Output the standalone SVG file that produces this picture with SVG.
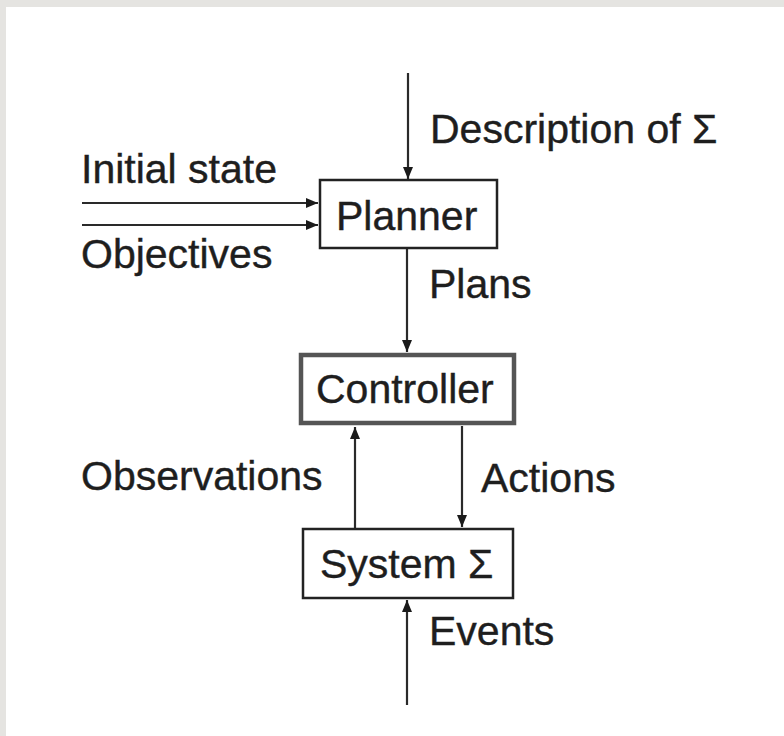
<svg xmlns="http://www.w3.org/2000/svg" width="784" height="736" viewBox="0 0 784 736">
<defs>
<marker id="ah" viewBox="0 0 12 10" refX="12" refY="5" markerWidth="12" markerHeight="10" markerUnits="userSpaceOnUse" orient="auto">
<path d="M0,0 L12,5 L0,10 Z" fill="#1a1a1a"/>
</marker>
<style>
.bg{fill:#e5e4e1}
.paper{fill:#ffffff}
.box{fill:#ffffff;stroke:#222;stroke-width:2.5}
.box2{fill:#ffffff;stroke:#555;stroke-width:4.5}
.lbl{font-family:"Liberation Sans",Arial,sans-serif;font-size:41px;fill:#1e1e1e;stroke:#1e1e1e;stroke-width:0.4}
.edge{stroke:#2a2a2a;stroke-width:2.2;fill:none;marker-end:url(#ah)}
</style>
</defs>
<rect class="bg" x="0" y="0" width="784" height="736"/>
<rect class="paper" x="6" y="7" width="778" height="729"/>

<g id="connectors">
<line class="edge" x1="408" y1="73" x2="408" y2="179"/>
<line class="edge" x1="82" y1="203" x2="318" y2="203"/>
<line class="edge" x1="82" y1="225" x2="318" y2="225"/>
<line class="edge" x1="407" y1="249" x2="407" y2="352"/>
<line class="edge" x1="355" y1="528" x2="355" y2="427"/>
<line class="edge" x1="462" y1="426" x2="462" y2="527"/>
<line class="edge" x1="407" y1="705" x2="407" y2="600"/>
</g>

<g id="labels">
<text class="lbl" x="430" y="143">Description of Σ</text>
<text class="lbl" x="81" y="183">Initial state</text>
<text class="lbl" x="81" y="268">Objectives</text>
<text class="lbl" x="429" y="298">Plans</text>
<text class="lbl" x="81" y="490">Observations</text>
<text class="lbl" x="481" y="492">Actions</text>
<text class="lbl" x="429" y="645">Events</text>
</g>

<g id="planner">
<rect class="box" x="320" y="180" width="177" height="68"/>
<text class="lbl" x="336" y="230">Planner</text>
</g>

<g id="controller">
<rect class="box2" x="301" y="355" width="213" height="68"/>
<text class="lbl" x="316" y="403">Controller</text>
</g>

<g id="system">
<rect class="box" x="303" y="529" width="210" height="69"/>
<text class="lbl" x="320" y="578">System Σ</text>
</g>
</svg>
